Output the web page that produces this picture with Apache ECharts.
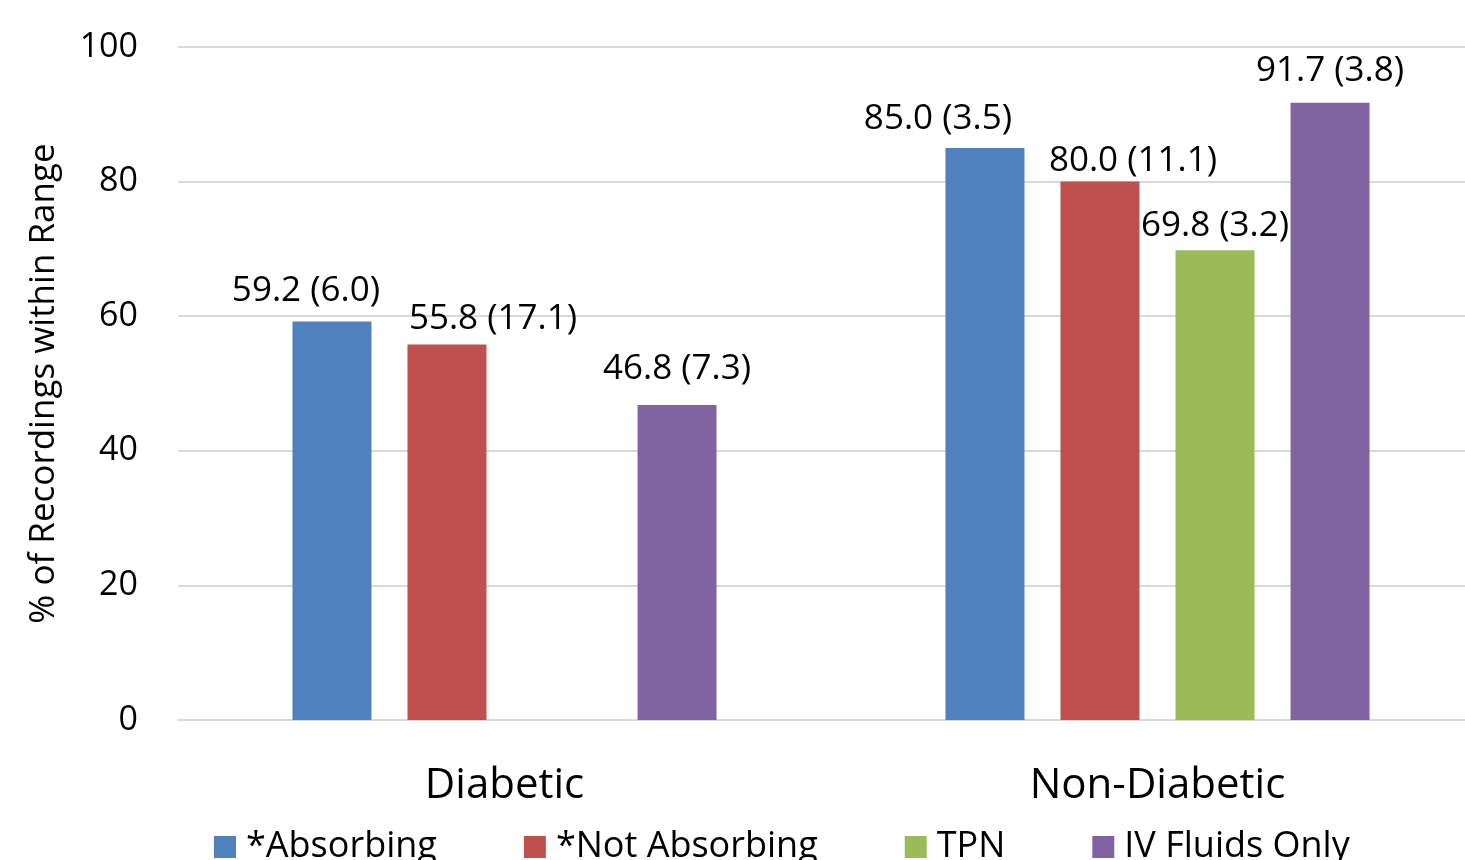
<!DOCTYPE html>
<html><head><meta charset="utf-8">
<script src="https://cdn.jsdelivr.net/npm/echarts@6/dist/echarts.min.js"></script>
<style>html,body{margin:0;padding:0;background:#fff}#c{width:1465px;height:860px}</style>
</head><body><div id="c"></div>
<script>
const categories = ['Diabetic', 'Non-Diabetic'];
const seriesNames = ['*Absorbing', '*Not Absorbing', 'TPN', 'IV Fluids Only'];
const absorbing = [59.2, 85.0];
const absorbingSD = [6.0, 3.5];
const notAbsorbing = [55.8, 80.0];
const notAbsorbingSD = [17.1, 11.1];
const tpn = [null, 69.8];
const tpnSD = [null, 3.2];
const ivFluids = [46.8, 91.7];
const ivFluidsSD = [7.3, 3.8];
const yTicks = [0, 20, 40, 60, 80, 100];

// label placement tweaks (pixels), per series per category
const labelOffsets = [
  [[-26, -8], [-47, -6]],
  [[46, -3], [33, 2]],
  [[0, -2], [0, -2]],
  [[0, -14], [0, -9]]
];
const colors = ['#4F81BD', '#C0504D', '#9BBB59', '#8064A2'];
const values = [absorbing, notAbsorbing, tpn, ivFluids];
const sds = [absorbingSD, notAbsorbingSD, tpnSD, ivFluidsSD];
const FONT = 'Open Sans';

const chart = echarts.init(document.getElementById('c'));
const series = seriesNames.map((name, si) => ({
  name, type: 'bar',
  barWidth: 79, barGap: '45.6%',
  itemStyle: { color: colors[si] },
  data: values[si].map((v, ci) => v == null ? null : ({
    value: v,
    label: {
      show: true, position: 'top',
      offset: labelOffsets[si][ci],
      formatter: v.toFixed(1) + ' (' + sds[si][ci].toFixed(1) + ')',
      fontSize: 35, fontFamily: FONT, color: '#000'
    }
  }))
}));

chart.setOption({
  animation: false,
  color: colors,
  grid: { left: 178, width: 1306, top: 47, height: 673, containLabel: false, outerBoundsMode: 'none' },
  legend: {
    left: 214, top: 829, padding: 0, itemWidth: 22, itemHeight: 22, itemGap: 87,
    icon: 'rect',
    textStyle: { fontSize: 36, fontFamily: FONT, color: '#000', padding: [0, 0, 0, 5] },
    data: seriesNames
  },
  xAxis: {
    type: 'category', data: categories,
    axisLine: { lineStyle: { color: '#d9d9d9', width: 2 } },
    axisTick: { show: false },
    axisLabel: { fontSize: 42, fontFamily: FONT, color: '#000', margin: 45 }
  },
  yAxis: {
    type: 'value', min: yTicks[0], max: yTicks[yTicks.length - 1], interval: 20,
    name: '% of Recordings within Range', nameLocation: 'middle', nameGap: 116,
    nameTextStyle: { fontSize: 35, fontFamily: FONT, color: '#000' },
    axisLine: { show: false }, axisTick: { show: false },
    axisLabel: { fontSize: 34, fontFamily: FONT, color: '#000', margin: 40 },
    splitLine: { lineStyle: { color: '#d9d9d9', width: 2 } }
  },
  series
});
</script></body></html>
